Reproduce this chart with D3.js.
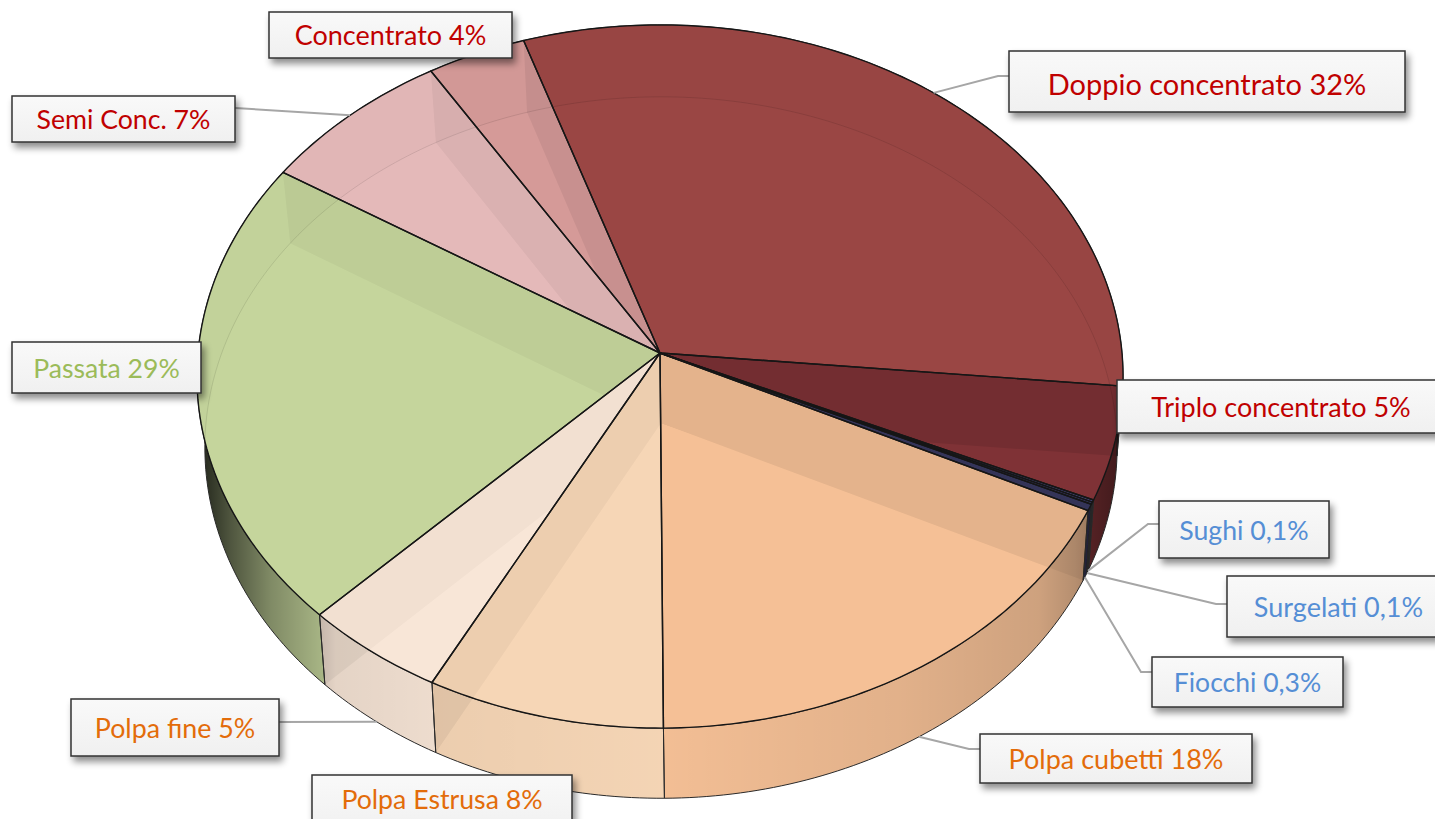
<!DOCTYPE html>
<html>
<head>
<meta charset="utf-8">
<script src="https://cdn.jsdelivr.net/npm/d3@7"></script>
<style>
  html, body { margin: 0; padding: 0; background: #fff; overflow: hidden; }
  svg { display: block; }
  text { font-family: Lato, "Open Sans", sans-serif; }
</style>
</head>
<body>
<div id="viz"></div>
<script>
const width = 1435;
const height = 819;

// Slices as they are really drawn, clockwise from the left edge of Doppio.
// (Passata is printed as 29% but its slice only spans about 21% of the disc.)
const categories = ['Doppio concentrato', 'Triplo concentrato', 'Sughi', 'Surgelati', 'Fiocchi', 'Polpa cubetti', 'Polpa Estrusa', 'Polpa fine', 'Passata', 'Semi Conc.', 'Concentrato'];
const sliceShare = [31.6, 5.2, 0.1, 0.1, 0.3, 17.7, 7.8, 4.7, 21.6, 7.25, 3.7];
const printedShare = ['32%', '5%', '0,1%', '0,1%', '0,3%', '18%', '8%', '5%', '29%', '7%', '4%'];

const sliceColors = ['#9a4644', '#7f3236', '#4c4c88', '#3a3a68', '#343458', '#f5c096', '#f6d6b6', '#f8e6d7', '#c5d59c', '#e4b9b9', '#d59a98'];
const bandShade = [0.05, 0.09, 0, 0, 0, 0.065, 0.035, 0.025, 0.035, 0.045, 0.06];
const textColors = ['#c00000', '#c00000', '#558ed5', '#558ed5', '#558ed5', '#e36c0a', '#e36c0a', '#e36c0a', '#9bbb59', '#c00000', '#c00000'];

// label boxes: position, font size, and which rim the leader starts from
const boxes = [
  {x: 1009, y: 51, w: 396, h: 61, size: 29, leader: 'left', rim: 'top', ly: 76, ty: 84},
  {x: 1117, y: 380, w: 330, h: 53, size: 27, leader: null, tx: 1281},
  {x: 1159, y: 501, w: 170, h: 57, size: 26.7, leader: 'left', rim: 'bottom', ly: 524},
  {x: 1227, y: 576, w: 220, h: 61, size: 27, leader: 'left', rim: 'bottom', ly: 604, tx: 1338.5},
  {x: 1152, y: 657, w: 191, h: 50, size: 26.5, leader: 'left', rim: 'bottom', ly: 672},
  {x: 980, y: 734, w: 272, h: 49, size: 27, leader: 'left', rim: 'bottom', ly: 749},
  {x: 312, y: 775, w: 260, h: 60, size: 26.7, leader: null, ty: 799},
  {x: 71, y: 699, w: 208, h: 57, size: 26.8, leader: 'right', rim: 'bottom', ly: 722},
  {x: 12, y: 342, w: 189, h: 51, size: 26.6, leader: null},
  {x: 12, y: 96, w: 223, h: 46, size: 26.7, leader: 'right', rim: 'top', ly: 108},
  {x: 269, y: 12, w: 243, h: 46, size: 27, leader: null}
];

const toRad = Math.PI / 180;
const pie = d3.pie().sort(null)
  .startAngle(-18.3 * toRad)
  .endAngle(341.7 * toRad)(sliceShare);

// disc parameters: top face and bottom face seen in a slight perspective
const topDisc = {cx: 660, cy: 353, a: 462, d: 350, k: 0.0669};
const bottomDisc = {cx: 661, cy: 423, a: 455, d: 349, k: 0.07};

const unitX = d3.scaleLinear().domain([-1, 1]);
const unitY = d3.scaleLinear().domain([-1, 1]);

// angle is clockwise from 12 o'clock
const project = (disc, angle) => {
  const u = Math.sin(angle);
  const v = -Math.cos(angle);
  const w = 1 - disc.k * v;
  unitX.range([-disc.a, disc.a]);
  unitY.range([-disc.d, disc.d]);
  return [disc.cx + unitX(u) / w, disc.cy + unitY(v) / w];
};

const arcPoints = (disc, a0, a1) => {
  const n = Math.max(2, Math.ceil(Math.abs(a1 - a0) / toRad));
  return d3.range(n + 1).map(i => project(disc, a0 + (a1 - a0) * i / n));
};

const line = d3.line();
const closed = pts => line(pts) + 'Z';
const sectorPath = (disc, s) => closed([[disc.cx, disc.cy], ...arcPoints(disc, s.startAngle, s.endAngle)]);
const fullDisc = disc => closed(arcPoints(disc, 0, 2 * Math.PI));

const svg = d3.select('#viz')
  .append('svg')
    .attr('width', width)
    .attr('height', height)
    .attr('viewBox', [0, 0, width, height]);

const defs = svg.append('defs');

const shadow = defs.append('filter')
    .attr('id', 'boxShadow')
    .attr('x', '-10%').attr('y', '-20%')
    .attr('width', '125%').attr('height', '150%');
shadow.append('feDropShadow')
    .attr('dx', 3).attr('dy', 5)
    .attr('stdDeviation', 3.5)
    .attr('flood-color', '#000')
    .attr('flood-opacity', 0.45);

const boxFill = defs.append('linearGradient')
    .attr('id', 'boxFill')
    .attr('x1', 0).attr('y1', 0).attr('x2', 0).attr('y2', 1);
boxFill.append('stop').attr('offset', 0).attr('stop-color', '#f9f9f9');
boxFill.append('stop').attr('offset', 1).attr('stop-color', '#f0f0f0');

// the side wall gets darker towards both ends of the disc
const wallShade = defs.append('linearGradient')
    .attr('id', 'wallShade')
    .attr('gradientUnits', 'userSpaceOnUse')
    .attr('x1', 197).attr('y1', 0).attr('x2', 1122).attr('y2', 0);
[[0, 0.85], [0.036, 0.6], [0.08, 0.35], [0.133, 0.16], [0.15, 0.08], [0.27, 0.04], [0.5, 0.01], [0.76, 0.08], [0.91, 0.16], [0.95, 0.26], [1, 0.5]].forEach(s => {
  wallShade.append('stop')
    .attr('offset', s[0])
    .attr('stop-color', '#000')
    .attr('stop-opacity', s[1]);
});

defs.selectAll('clipPath.top').data(pie).join('clipPath')
    .attr('class', 'top')
    .attr('id', (d, i) => `top${i}`)
  .append('path')
    .attr('d', d => sectorPath(topDisc, d));

const wallPath = d => closed([
  ...arcPoints(topDisc, d.startAngle, d.endAngle),
  ...arcPoints(bottomDisc, d.endAngle, d.startAngle)
]);

// Side wall
const walls = svg.append('g');
walls.selectAll('path.base').data(pie).join('path')
    .attr('class', 'base')
    .attr('d', wallPath)
    .attr('fill', (d, i) => sliceColors[i]);
walls.selectAll('path.shade').data(pie).join('path')
    .attr('class', 'shade')
    .attr('d', wallPath)
    .attr('fill', 'url(#wallShade)')
    .attr('stroke', '#2a2a2a')
    .attr('stroke-width', 1);

// inner walls of the slices show through the front wall too
defs.append('clipPath').attr('id', 'wallClip')
  .append('path').attr('d', fullDisc(bottomDisc));
const edgeQuad = d => closed([
  [topDisc.cx, topDisc.cy],
  project(topDisc, d.startAngle),
  project(bottomDisc, d.startAngle),
  [bottomDisc.cx, bottomDisc.cy]
]);
walls.append('g')
    .attr('clip-path', 'url(#wallClip)')
    .attr('opacity', 0.05)
  .selectAll('path').data(pie).join('path')
    .attr('d', edgeQuad)
    .attr('fill', '#000');

// Top face
const faces = svg.append('g');
faces.selectAll('path').data(pie).join('path')
    .attr('d', d => sectorPath(topDisc, d))
    .attr('fill', (d, i) => sliceColors[i]);

// Walls and bottom rim seen through the top face
const seeThrough = svg.append('g');
pie.forEach((s, i) => {
  const g = seeThrough.append('g').attr('clip-path', `url(#top${i})`);
  // group opacity, so the bands do not add up around the hub
  g.append('g')
      .attr('opacity', bandShade[i])
    .selectAll('path').data(pie).join('path')
      .attr('d', edgeQuad)
      .attr('fill', '#000');
  g.append('path')
      .attr('d', fullDisc(bottomDisc))
      .attr('fill', 'none')
      .attr('stroke', '#000')
      .attr('stroke-opacity', 0.1)
      .attr('stroke-width', 1);
  g.append('path')
      .attr('d', fullDisc(topDisc) + fullDisc(bottomDisc))
      .attr('fill-rule', 'evenodd')
      .attr('fill', '#000')
      .attr('fill-opacity', 0.012);
});

// Outlines of the top face
svg.append('g')
  .selectAll('path').data(pie).join('path')
    .attr('d', d => sectorPath(topDisc, d))
    .attr('fill', 'none')
    .attr('stroke', '#161616')
    .attr('stroke-width', 1.4)
    .attr('stroke-linejoin', 'round');

// Leaders start at the middle of their slice
const leaders = svg.append('g')
    .attr('fill', 'none')
    .attr('stroke', '#a6a6a6')
    .attr('stroke-width', 2);
pie.forEach((s, i) => {
  const b = boxes[i];
  if (!b.leader) return;
  const mid = (s.startAngle + s.endAngle) / 2;
  const disc = b.rim === 'top' ? topDisc : bottomDisc;
  const edge = b.leader === 'left' ? b.x : b.x + b.w;
  const elbow = b.leader === 'left' ? edge - 11 : edge;
  leaders.append('path')
      .attr('d', line([project(disc, mid), [elbow, b.ly], [edge, b.ly]]));
});

const labels = svg.append('g')
  .selectAll('g').data(pie).join('g');
labels.append('rect')
    .attr('x', (d, i) => boxes[i].x)
    .attr('y', (d, i) => boxes[i].y)
    .attr('width', (d, i) => boxes[i].w)
    .attr('height', (d, i) => boxes[i].h)
    .attr('fill', 'url(#boxFill)')
    .attr('stroke', '#333')
    .attr('stroke-width', 1.5)
    .style('filter', 'url(#boxShadow)');
labels.append('text')
    .attr('x', (d, i) => boxes[i].tx || boxes[i].x + boxes[i].w / 2)
    .attr('y', (d, i) => boxes[i].ty || boxes[i].y + boxes[i].h / 2)
    .attr('dy', '0.38em')
    .attr('text-anchor', 'middle')
    .attr('font-size', (d, i) => boxes[i].size)
    .attr('fill', (d, i) => textColors[i])
    .text((d, i) => `${categories[i]} ${printedShare[i]}`);
</script>
</body>
</html>
